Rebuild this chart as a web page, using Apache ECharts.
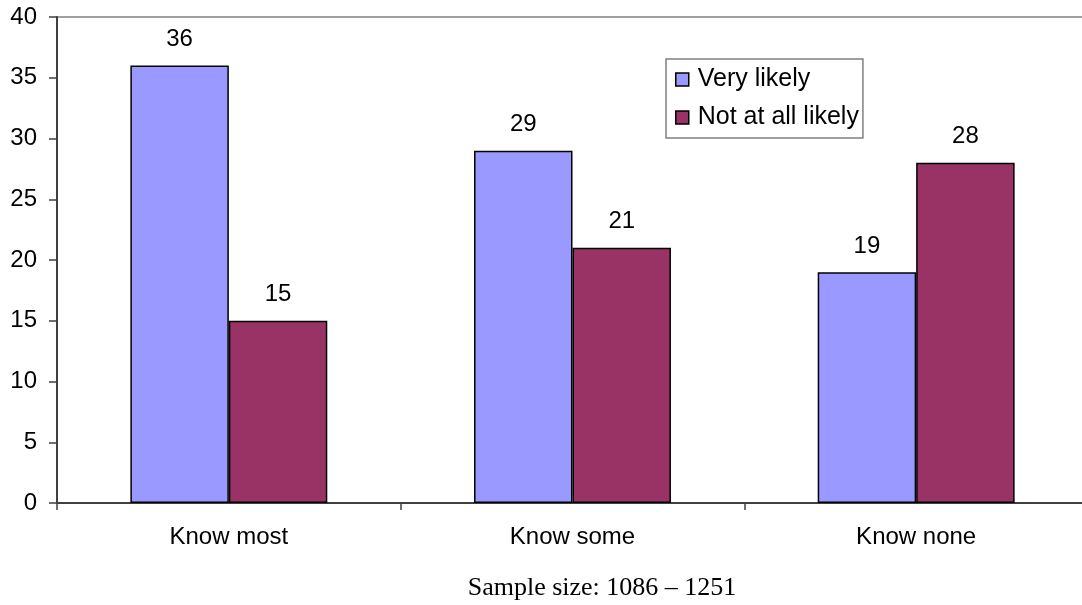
<!DOCTYPE html>
<html>
<head>
<meta charset="utf-8">
<style>
  html, body { margin: 0; padding: 0; background: #ffffff; }
  #chart { width: 1082px; height: 605px; }
</style>
<script src="https://cdn.jsdelivr.net/npm/echarts@6/dist/echarts.min.js"></script>
</head>
<body>
<div id="chart"></div>
<script>
// Share of respondents by how many neighbours they know
const categories = ['Know most', 'Know some', 'Know none'];
const veryLikely = [36, 29, 19];
const notAtAllLikely = [15, 21, 28];
const seriesNames = ['Very likely', 'Not at all likely'];
const yTicks = { min: 0, max: 40, interval: 5 };
const footnote = 'Sample size: 1086 \u2013 1251';

const sans = 'Liberation Sans, Arial, sans-serif';
const chart = echarts.init(document.getElementById('chart'), null, { renderer: 'canvas' });

const barLabel = {
  show: true,
  position: 'top',
  distance: 14,
  color: '#000',
  fontFamily: sans,
  fontSize: 24
};

chart.setOption({
  animation: false,
  backgroundColor: '#ffffff',
  grid: {
    left: 57,
    top: 17,
    width: 1031,
    bottom: 102,
    outerBoundsMode: 'none',
    containLabel: false,
    show: true,
    borderColor: '#a0a0a0',
    borderWidth: 2,
    backgroundColor: 'transparent'
  },
  legend: {
    orient: 'vertical',
    left: 666,
    top: 59,
    padding: [8, 4, 8, 9],
    itemGap: 13,
    itemWidth: 13,
    itemHeight: 13,
    borderColor: '#808080',
    borderWidth: 1.5,
    backgroundColor: '#ffffff',
    icon: 'rect',
    itemStyle: { borderColor: '#000', borderWidth: 1.5 },
    textStyle: { color: '#000', fontFamily: sans, fontSize: 25, padding: [0, 0, 0, 4] },
    data: seriesNames
  },
  xAxis: {
    type: 'category',
    data: categories,
    axisLine: { lineStyle: { color: '#404040', width: 2 } },
    axisTick: { show: true, length: 7, lineStyle: { color: '#404040', width: 1.5 } },
    axisLabel: { color: '#000', fontFamily: sans, fontSize: 24, margin: 22 },
    splitLine: { show: false }
  },
  yAxis: {
    type: 'value',
    min: yTicks.min,
    max: yTicks.max,
    interval: yTicks.interval,
    axisLine: { show: true, lineStyle: { color: '#404040', width: 2 } },
    axisTick: { show: true, length: 8, lineStyle: { color: '#404040', width: 1.5 } },
    axisLabel: { color: '#000', fontFamily: sans, fontSize: 24, margin: 20 },
    splitLine: { show: false }
  },
  series: [
    {
      name: seriesNames[0],
      type: 'bar',
      data: veryLikely,
      barGap: '0%',
      barCategoryGap: '42.7%',
      itemStyle: { color: '#9999ff', borderColor: '#000', borderWidth: 1.5 },
      label: barLabel
    },
    {
      name: seriesNames[1],
      type: 'bar',
      data: notAtAllLikely,
      itemStyle: { color: '#993366', borderColor: '#000', borderWidth: 1.5 },
      label: barLabel
    }
  ],
  graphic: [
    {
      type: 'text',
      x: 602,
      y: 588,
      style: {
        text: footnote,
        fill: '#000',
        font: '26px "Liberation Serif", "Times New Roman", serif',
        textAlign: 'center',
        textVerticalAlign: 'middle'
      }
    }
  ]
});
</script>
</body>
</html>
